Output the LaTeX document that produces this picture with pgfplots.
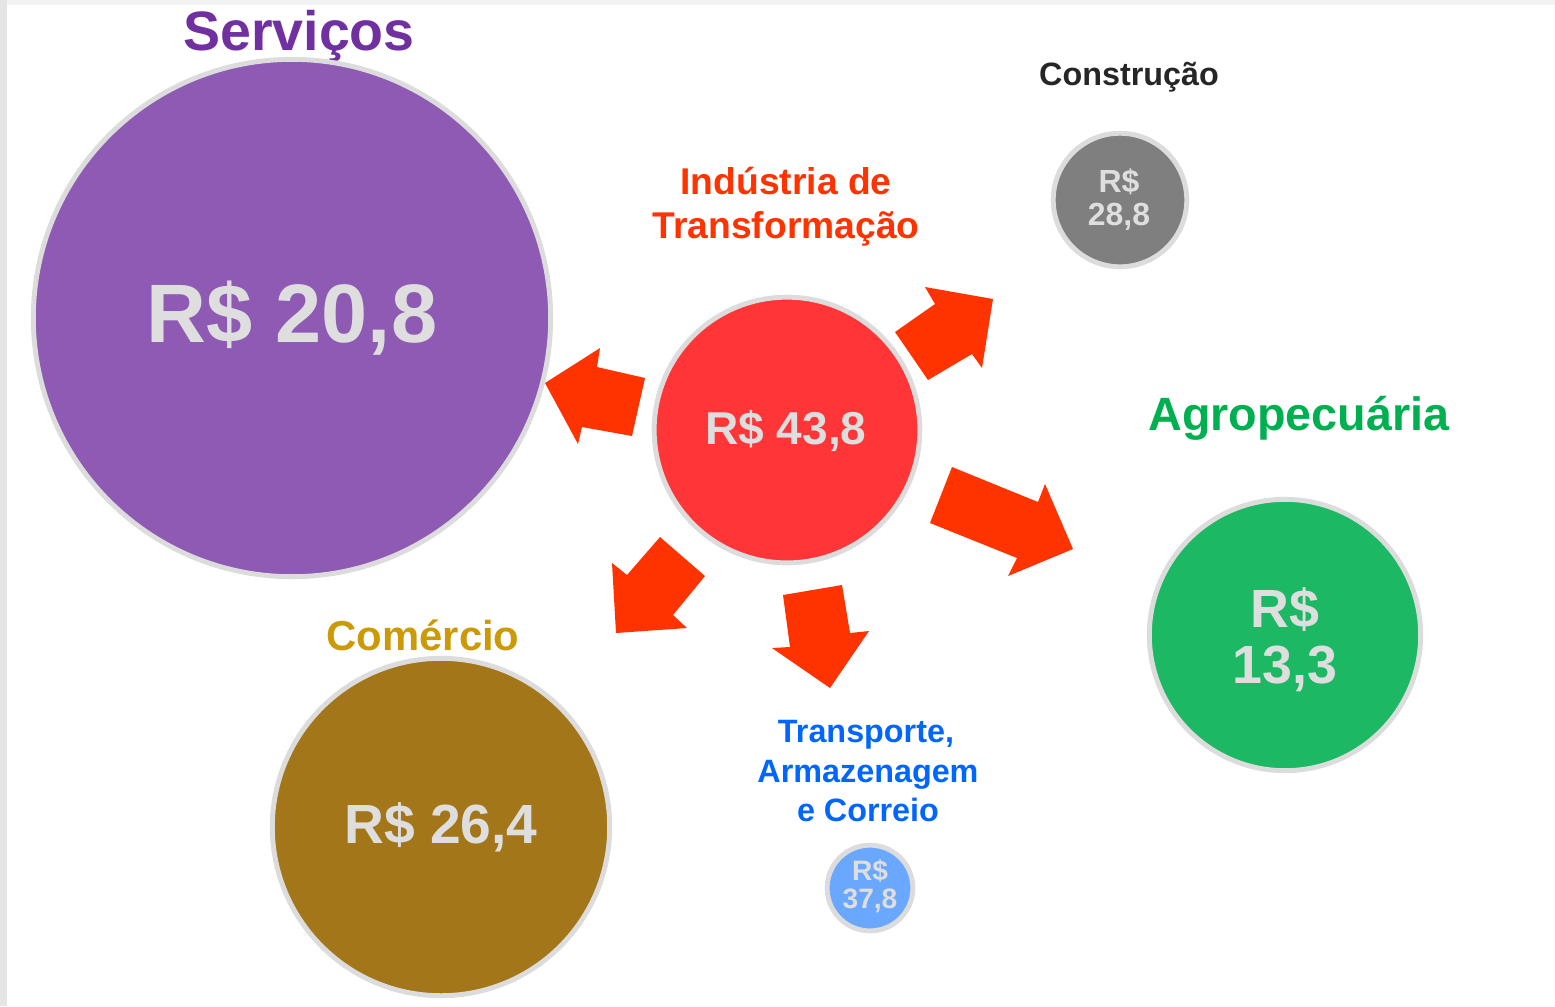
\documentclass[border=0pt]{standalone}
\usepackage{pgfplots}
\pgfplotsset{compat=1.18}
\usepackage{fontspec}
\setmainfont{Liberation Sans}

\definecolor{cServ}{HTML}{8E5AB3}
\definecolor{cInd}{HTML}{FF3538}
\definecolor{cCons}{HTML}{7F7F7F}
\definecolor{cAgro}{HTML}{1DB863}
\definecolor{cCom}{HTML}{A3761A}
\definecolor{cTrans}{HTML}{6AA8FF}
\definecolor{ring}{HTML}{DCDCDC}
\definecolor{val}{HTML}{DEDEDE}
\definecolor{arrowred}{HTML}{FF3300}
\definecolor{tServ}{HTML}{7030A0}
\definecolor{tInd}{HTML}{FF3300}
\definecolor{tCons}{HTML}{262626}
\definecolor{tAgro}{HTML}{00B050}
\definecolor{tCom}{HTML}{CC9A06}
\definecolor{tTrans}{HTML}{0066FF}

% font size given in pixels of the reference (1 px = 0.01 cm)
\newcommand{\fs}[1]{\fontsize{#1pt}{#1pt}\selectfont\bfseries}

\begin{document}
\begin{tikzpicture}[every node/.style={inner sep=0pt}]
\begin{axis}[
  width=15.55cm, height=10.06cm, scale only axis,
  xmin=0, xmax=1555, ymin=0, ymax=1006, y dir=reverse,
  enlargelimits=false, hide axis, clip=false,
]
% screenshot frame
\addplot[fill=black!10, draw=none] coordinates {(0,0) (7,0) (7,1006) (0,1006)} -- cycle;
\addplot[fill=black!5, draw=none] coordinates {(7,0) (1555,0) (1555,5) (7,5)} -- cycle;

% arrows
\addplot[fill=arrowred, draw=none] coordinates {(545,383) (600,348) (597,367) (645,378) (632,436) (582,427) (578,444)} -- cycle;
\addplot[fill=arrowred, draw=none] coordinates {(993,299) (925,287) (935,304) (895,332) (928,380) (972,354) (982,368)} -- cycle;
\addplot[fill=arrowred, draw=none] coordinates {(952,467) (1038,502) (1045,484) (1073,549) (1008,576) (1017,558) (930,523)} -- cycle;
\addplot[fill=arrowred, draw=none] coordinates {(660,537) (705,576) (673,615) (687,628) (616,633) (612,563) (627,575)} -- cycle;
\addplot[fill=arrowred, draw=none] coordinates {(783,595) (842,585) (850,633) (869,631) (830,688) (772,648) (790,647)} -- cycle;

% bubbles (mark size = radius in px * 0.2845 pt)
\addplot[only marks, mark=*, mark size=73.6pt, mark options={fill=cServ, draw=ring, line width=1.4pt}] coordinates {(292,318)};
\addplot[only marks, mark=*, mark size=37.8pt, mark options={fill=cInd, draw=ring, line width=1.4pt}] coordinates {(787,430)};
\addplot[only marks, mark=*, mark size=19.0pt, mark options={fill=cCons, draw=ring, line width=1.4pt}] coordinates {(1120,200)};
\addplot[only marks, mark=*, mark size=38.6pt, mark options={fill=cAgro, draw=ring, line width=1.4pt}] coordinates {(1285,635)};
\addplot[only marks, mark=*, mark size=48.0pt, mark options={fill=cCom, draw=ring, line width=1.4pt}] coordinates {(441,827)};
\addplot[only marks, mark=*, mark size=12.2pt, mark options={fill=cTrans, draw=ring, line width=1.4pt}] coordinates {(870,888)};

% anchor points for the value labels
\coordinate (vServ) at (axis cs:292,342);
\coordinate (vInd) at (axis cs:786,444);
\coordinate (vCom) at (axis cs:441,843);
\coordinate (vAgroA) at (axis cs:1285,627);
\coordinate (vAgroB) at (axis cs:1285,683);
\coordinate (vConsA) at (axis cs:1119,192);
\coordinate (vConsB) at (axis cs:1119,225);
\coordinate (vTrA) at (axis cs:870,880);
\coordinate (vTrB) at (axis cs:870,908);

% sector names
\node[anchor=base, text=tServ] at (axis cs:299,50) {\fs{15.8}Serviços};
\node[anchor=base, text=tInd] at (axis cs:786,194) {\fs{10.6}Indústria de};
\node[anchor=base, text=tInd] at (axis cs:786,238) {\fs{10.6}Transformação};
\node[anchor=base, text=tCons] at (axis cs:1129,85) {\fs{9.2}Construção};
\node[anchor=base, text=tAgro] at (axis cs:1299,430) {\fs{13.3}Agropecuária};
\node[anchor=base, text=tCom] at (axis cs:423,650) {\fs{11.9}Comércio};
\node[anchor=base, text=tTrans] at (axis cs:866,742) {\fs{9.2}Transporte,};
\node[anchor=base, text=tTrans] at (axis cs:868,782) {\fs{9.2}Armazenagem};
\node[anchor=base, text=tTrans] at (axis cs:868,821) {\fs{9.2}e Correio};
\end{axis}
% values, on top of the bubbles
\node[anchor=base, text=val] at (vServ) {\fs{23.6}R\$ 20,8};
\node[anchor=base, text=val] at (vInd) {\fs{13.1}R\$ 43,8};
\node[anchor=base, text=val] at (vCom) {\fs{15.7}R\$ 26,4};
\node[anchor=base, text=val] at (vAgroA) {\fs{15.3}R\$};
\node[anchor=base, text=val] at (vAgroB) {\fs{15.3}13,3};
\node[anchor=base, text=val] at (vConsA) {\fs{9.1}R\$};
\node[anchor=base, text=val] at (vConsB) {\fs{9.1}28,8};
\node[anchor=base, text=val] at (vTrA) {\fs{8}R\$};
\node[anchor=base, text=val] at (vTrB) {\fs{8}37,8};
\end{tikzpicture}
\end{document}
